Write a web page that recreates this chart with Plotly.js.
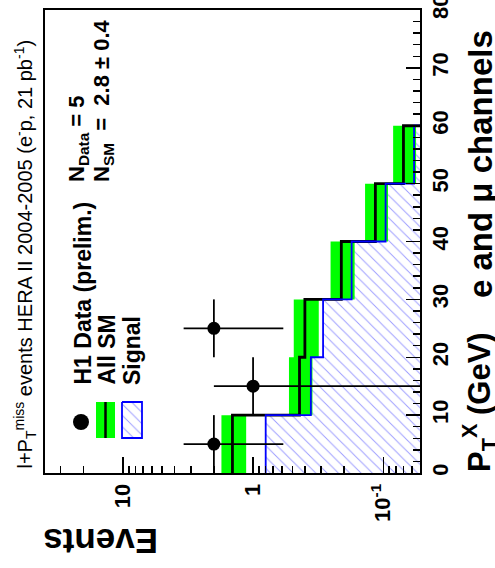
<!DOCTYPE html>
<html>
<head>
<meta charset="utf-8">
<script src="https://cdn.plot.ly/plotly-3.0.1.min.js"></script>
<style>
  html, body { margin: 0; padding: 0; background: #ffffff; }
  #chart { width: 495px; height: 568px; }
</style>
</head>
<body>
<div id="chart"></div>
<script>
// P_T^X bins (GeV)
const binLow  = [0, 10, 20, 30, 40, 50, 60, 70];
const binHigh = [10, 20, 30, 40, 50, 60, 70, 80];

// All-SM expectation per bin and its total uncertainty
const smEvents = [1.44, 0.44, 0.40, 0.21, 0.115, 0.070, 0.001, 0.001];
const smError  = [0.31, 0.09, 0.087, 0.044, 0.023, 0.014, 0, 0];

// Signal expectation per bin
const signalEvents = [0.80, 0.36, 0.29, 0.175, 0.096, 0.058, 0.001, 0.001];

// H1 data (prelim.)
const dataPt        = [5, 15, 25];
const dataHalfWidth = [5, 5, 5];
const dataEvents    = [2, 1, 2];

// Axis ticks
const eventTickVals = [0.1, 1, 10];
const eventTickText = ['10<sup>-1</sup>', '1', '10'];
const ptTickVals    = [0, 10, 20, 30, 40, 50, 60, 70, 80];
const ptTickText    = ['0', '10', '20', '30', '40', '50', '60', '70', '80'];

const FONT = 'Liberation Sans, Arial, Helvetica, sans-serif';
const GREEN = '#00ff00';
const BLUE = '#0000ff';
const FLOOR = 1e-3;   // far below the lower end of the event axis

// plot area in page pixels, used to place the rotated texts and legend
const AREA = { left: 45, right: 420, top: 10, bottom: 473 };
const PX = x => (x - AREA.left) / (AREA.right - AREA.left);
const PY = y => (AREA.bottom - y) / (AREA.bottom - AREA.top);

// log minor ticks 2..9 in every decade
const minorEventTicks = [];
for (let d = -2; d <= 1; d++) {
  for (let m = 2; m <= 9; m++) minorEventTicks.push(m * Math.pow(10, d));
}

// step outline of a histogram drawn along the P_T axis
function stepOutline(values) {
  const xs = [], ys = [];
  values.forEach((v, i) => { xs.push(v, v); ys.push(binLow[i], binHigh[i]); });
  return { xs, ys };
}

const sigStep = stepOutline(signalEvents);
const smStep = stepOutline(smEvents);

const HATCH = { shape: '\\', size: 8, solidity: 0.12, fgcolor: '#3a3aff', fgopacity: 0.5, bgcolor: '#ffffff' };

// hatched signal area from the outline to the low-event edge
const signalFill = {
  type: 'scatter', mode: 'lines',
  x: [FLOOR].concat(sigStep.xs, [FLOOR]),
  y: [binLow[0]].concat(sigStep.ys, [binHigh[binHigh.length - 1]]),
  fill: 'toself', fillcolor: '#ffffff', fillpattern: HATCH,
  line: { width: 0 }, hoverinfo: 'skip', showlegend: false
};

// SM uncertainty band
const bandX = [], bandY = [];
smEvents.forEach((v, i) => {
  if (!smError[i]) return;
  const lo = v - smError[i], hi = v + smError[i];
  bandX.push(lo, hi, hi, lo, lo, null);
  bandY.push(binLow[i], binLow[i], binHigh[i], binHigh[i], binLow[i], null);
});
const smBand = {
  type: 'scatter', mode: 'lines', x: bandX, y: bandY,
  fill: 'toself', fillcolor: GREEN, line: { width: 0 },
  hoverinfo: 'skip', showlegend: false
};

const smLine = {
  type: 'scatter', mode: 'lines', x: smStep.xs, y: smStep.ys,
  line: { color: '#000000', width: 2.8 }, hoverinfo: 'skip', showlegend: false
};

const signalLine = {
  type: 'scatter', mode: 'lines', x: sigStep.xs, y: sigStep.ys,
  line: { color: BLUE, width: 1.8 }, hoverinfo: 'skip', showlegend: false
};

const dataErrUp = dataEvents.map(n => Math.sqrt(n));
const dataErrDown = dataEvents.map(n => Math.min(Math.sqrt(n), n * 0.9999));
const dataTrace = {
  type: 'scatter', mode: 'markers', x: dataEvents, y: dataPt,
  marker: { size: 13, color: '#000000' },
  error_x: { type: 'data', symmetric: false, array: dataErrUp, arrayminus: dataErrDown,
             width: 0, thickness: 1.8, color: '#000000' },
  error_y: { type: 'data', array: dataHalfWidth, width: 0, thickness: 1.8, color: '#000000' },
  hoverinfo: 'skip', showlegend: false
};

// legend glyphs, drawn on a pixel overlay
const legendDot = {
  type: 'scatter', mode: 'markers', xaxis: 'x2', yaxis: 'y2',
  x: [81], y: [422], marker: { size: 16, color: '#000000' }, hoverinfo: 'skip', showlegend: false
};
const legendBand = {
  type: 'scatter', mode: 'lines', xaxis: 'x2', yaxis: 'y2',
  x: [96, 115, 115, 96, 96], y: [402, 402, 438, 438, 402],
  fill: 'toself', fillcolor: GREEN, line: { width: 0 }, hoverinfo: 'skip', showlegend: false
};
const legendBandLine = {
  type: 'scatter', mode: 'lines', xaxis: 'x2', yaxis: 'y2',
  x: [105.5, 105.5], y: [402, 438], line: { color: '#000000', width: 2.5 },
  hoverinfo: 'skip', showlegend: false
};
const legendSignal = {
  type: 'scatter', mode: 'lines', xaxis: 'x2', yaxis: 'y2',
  x: [122, 142, 142, 122, 122], y: [402, 402, 438, 438, 402],
  fill: 'toself', fillcolor: '#ffffff', fillpattern: HATCH,
  line: { color: BLUE, width: 1.8 }, hoverinfo: 'skip', showlegend: false
};

function rotText(text, x, y, size, bold, yanchor) {
  return {
    xref: 'paper', yref: 'paper', x: PX(x), y: PY(y),
    text: text, showarrow: false, textangle: -90,
    xanchor: 'center', yanchor: yanchor || 'bottom',
    font: { family: FONT, size: size, color: '#000000', weight: bold ? 'bold' : 'normal' }
  };
}

const annotations = [
  rotText('l+P<sub>T</sub><sup>miss</sup> events HERA II 2004-2005 (e<sup>-</sup>p, 21 pb<sup>-1</sup>)', 25, 471, 20, false),
  rotText('H1 Data (prelim.)', 82, 387, 23, true),
  rotText('All SM', 106.5, 387, 23, true),
  rotText('Signal', 131.5, 387, 23, true),
  rotText('N<sub>Data</sub> = 5', 77.5, 184, 22, true),
  rotText('N<sub>SM</sub>  =  2.8 \u00b1 0.4', 102.5, 184, 22, true),
  rotText('P<sub>T</sub><sup>X</sup> (GeV)', 480, 474, 31, true),
  rotText('e and \u03bc channels', 480, 300, 33, true),
  {
    xref: 'paper', yref: 'paper', x: PX(101), y: PY(542),
    text: 'Events', showarrow: false, textangle: 180,
    xanchor: 'center', yanchor: 'middle',
    font: { family: FONT, size: 35, color: '#000000', weight: 'bold' }
  }
];

const layout = {
  width: 495, height: 568,
  margin: { l: AREA.left, r: 495 - AREA.right, t: AREA.top, b: 568 - AREA.bottom, pad: 0 },
  paper_bgcolor: '#ffffff', plot_bgcolor: '#ffffff',
  showlegend: false,
  xaxis: {
    type: 'log', range: [1.598, -1.282], autorange: false,
    showgrid: false, zeroline: false,
    showline: true, linecolor: '#000000', linewidth: 2, mirror: true,
    ticks: 'inside', ticklen: 16, tickwidth: 1.5, tickcolor: '#000000',
    tickmode: 'array', tickvals: eventTickVals, ticktext: eventTickText,
    tickangle: -90, ticklabeloverflow: 'allow',
    tickfont: { family: FONT, size: 22, color: '#000000', weight: 'bold' },
    minor: { tickmode: 'array', tickvals: minorEventTicks, ticks: 'inside', ticklen: 7, tickwidth: 1.5, tickcolor: '#000000', showgrid: false }
  },
  yaxis: {
    range: [0, 80], autorange: false, side: 'right',
    showgrid: false, zeroline: false,
    showline: true, linecolor: '#000000', linewidth: 2, mirror: true,
    ticks: 'inside', ticklen: 14, tickwidth: 1.5, tickcolor: '#000000',
    tickmode: 'array', tickvals: ptTickVals, ticktext: ptTickText,
    tickangle: -90, ticklabeloverflow: 'allow',
    tickfont: { family: FONT, size: 22, color: '#000000', weight: 'bold' },
    minor: { dtick: 2, ticks: 'inside', ticklen: 7, tickwidth: 1.5, tickcolor: '#000000', showgrid: false }
  },
  xaxis2: { overlaying: 'x', anchor: 'y2', range: [AREA.left, AREA.right], autorange: false, visible: false },
  yaxis2: { overlaying: 'y', anchor: 'x2', range: [AREA.bottom, AREA.top], autorange: false, visible: false },
  annotations: annotations
};

Plotly.newPlot('chart',
  [signalFill, smBand, smLine, signalLine, dataTrace, legendBand, legendBandLine, legendSignal, legendDot],
  layout, { staticPlot: true, displayModeBar: false });
</script>
</body>
</html>
